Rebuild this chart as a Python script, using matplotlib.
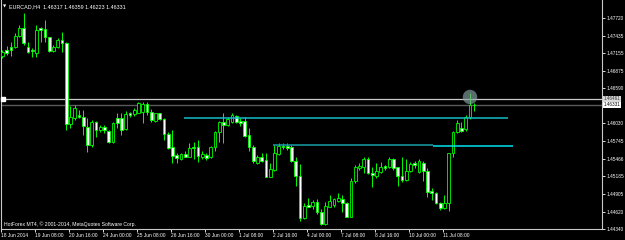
import matplotlib
matplotlib.use('Agg')
import matplotlib.pyplot as plt
from matplotlib.patches import Ellipse

# EURCAD H4 candles, 18 Jun 2014 .. 14 Jul 2014
opens = [1.47108, 1.47204, 1.47247, 1.47247, 1.47428, 1.47551, 1.47252, 1.47204, 1.47161, 1.47556,
         1.47540, 1.47407, 1.47193, 1.47247, 1.47364, 1.47321, 1.46020, 1.46116, 1.46164, 1.46132,
         1.45972, 1.45684, 1.46052, 1.45924, 1.45972, 1.45908, 1.45732, 1.46116, 1.46116, 1.45940,
         1.46196, 1.46175, 1.46196, 1.46217, 1.46340, 1.46217, 1.46068, 1.46196, 1.46100, 1.45860,
         1.45652, 1.45524, 1.45460, 1.45540, 1.45497, 1.45652, 1.45652, 1.45497, 1.45524, 1.45492,
         1.45652, 1.45897, 1.46057, 1.46004, 1.46057, 1.46148, 1.46073, 1.46068, 1.45844, 1.45647,
         1.45401, 1.45497, 1.45444, 1.45177, 1.45284, 1.45540, 1.45668, 1.45668, 1.45647, 1.45433,
         1.45188, 1.44511, 1.44724, 1.44708, 1.44777, 1.44617, 1.44415, 1.44697, 1.44719, 1.44793,
         1.44815, 1.44761, 1.44537, 1.45113, 1.45311, 1.45327, 1.45465, 1.45241, 1.45188, 1.45257,
         1.45348, 1.45327, 1.45460, 1.45327, 1.45188, 1.45124, 1.45273, 1.45391, 1.45257, 1.45391,
         1.45273, 1.44948, 1.44921, 1.44761, 1.44671, 1.44761, 1.45551, 1.45897, 1.45951, 1.45935,
         1.46127, 1.46317]
highs = [1.47204, 1.47268, 1.47337, 1.47476, 1.47604, 1.47791, 1.47337, 1.47236, 1.47604, 1.47577,
         1.47684, 1.47417, 1.47284, 1.47391, 1.47497, 1.47332, 1.46308, 1.46324, 1.46244, 1.46244,
         1.46116, 1.46084, 1.46068, 1.46004, 1.46004, 1.45924, 1.46057, 1.46196, 1.46196, 1.46233,
         1.46217, 1.46281, 1.46377, 1.46377, 1.46377, 1.46255, 1.46201, 1.46201, 1.46111, 1.45897,
         1.45924, 1.45551, 1.45561, 1.45593, 1.45721, 1.45737, 1.45764, 1.45593, 1.45551, 1.45668,
         1.45913, 1.46068, 1.46201, 1.46137, 1.46191, 1.46164, 1.46111, 1.46127, 1.45951, 1.45684,
         1.45524, 1.45551, 1.45551, 1.45401, 1.45684, 1.45711, 1.45711, 1.45711, 1.45684, 1.45487,
         1.45380, 1.44761, 1.44831, 1.44804, 1.44815, 1.44655, 1.44777, 1.44884, 1.44831, 1.44911,
         1.44884, 1.44777, 1.45151, 1.45364, 1.45391, 1.45487, 1.45487, 1.45337, 1.45391, 1.45417,
         1.45364, 1.45487, 1.45476, 1.45337, 1.45497, 1.45455, 1.45417, 1.45433, 1.45455, 1.45433,
         1.45311, 1.44991, 1.44937, 1.44777, 1.44884, 1.45561, 1.45913, 1.46084, 1.46057, 1.46164,
         1.46521, 1.46359]
lows = [1.47076, 1.47124, 1.47108, 1.47236, 1.47417, 1.47284, 1.47151, 1.47097, 1.47097, 1.47337,
        1.47337, 1.47177, 1.47177, 1.47231, 1.47177, 1.45924, 1.45956, 1.46084, 1.46116, 1.45844,
        1.45572, 1.45652, 1.45812, 1.45892, 1.45876, 1.45716, 1.45711, 1.45956, 1.45844, 1.45924,
        1.46127, 1.46148, 1.46191, 1.46036, 1.46164, 1.46057, 1.46057, 1.46084, 1.45764, 1.45615,
        1.45396, 1.45391, 1.45444, 1.45487, 1.45487, 1.45460, 1.45417, 1.45460, 1.45444, 1.45471,
        1.45593, 1.45737, 1.45711, 1.45988, 1.46031, 1.46031, 1.45988, 1.45807, 1.45593, 1.45391,
        1.45380, 1.45417, 1.45167, 1.45167, 1.45268, 1.45524, 1.45615, 1.45604, 1.45417, 1.45028,
        1.44468, 1.44495, 1.44687, 1.44655, 1.44580, 1.44404, 1.44404, 1.44687, 1.44697, 1.44777,
        1.44617, 1.44527, 1.44527, 1.45071, 1.45284, 1.45241, 1.45220, 1.45017, 1.45151, 1.45231,
        1.45284, 1.45311, 1.45284, 1.45028, 1.45097, 1.45113, 1.45257, 1.45311, 1.45231, 1.45113,
        1.44847, 1.44804, 1.44740, 1.44644, 1.44655, 1.44633, 1.45487, 1.45881, 1.45897, 1.45913,
        1.46095, 1.46223]
closes = [1.47172, 1.47161, 1.47204, 1.47428, 1.47556, 1.47311, 1.47177, 1.47183, 1.47524, 1.47524,
          1.47407, 1.47188, 1.47257, 1.47364, 1.47311, 1.46020, 1.46132, 1.46276, 1.46132, 1.45988,
          1.45684, 1.46052, 1.45924, 1.45972, 1.45924, 1.45732, 1.46036, 1.46036, 1.45924, 1.46180,
          1.46164, 1.46244, 1.46356, 1.46340, 1.46217, 1.46084, 1.46196, 1.46100, 1.45860, 1.45636,
          1.45508, 1.45481, 1.45540, 1.45497, 1.45641, 1.45644, 1.45513, 1.45540, 1.45481, 1.45652,
          1.45897, 1.46057, 1.46004, 1.46100, 1.46164, 1.46047, 1.46041, 1.45828, 1.45647, 1.45433,
          1.45492, 1.45433, 1.45177, 1.45300, 1.45556, 1.45668, 1.45647, 1.45641, 1.45433, 1.45188,
          1.44511, 1.44708, 1.44697, 1.44777, 1.44617, 1.44415, 1.44708, 1.44793, 1.44815, 1.44841,
          1.44761, 1.44537, 1.45113, 1.45332, 1.45348, 1.45465, 1.45231, 1.45199, 1.45268, 1.45337,
          1.45321, 1.45460, 1.45321, 1.45188, 1.45124, 1.45268, 1.45380, 1.45364, 1.45433, 1.45273,
          1.44937, 1.44911, 1.44761, 1.44671, 1.44761, 1.45556, 1.45897, 1.46031, 1.45913, 1.46127,
          1.46324, 1.46331]

x_labels = ['18 Jun 2014', '19 Jun 08:00', '20 Jun 16:00', '24 Jun 00:00', '25 Jun 08:00',
            '26 Jun 16:00', '30 Jun 00:00', '1 Jul 08:00', '2 Jul 16:00', '4 Jul 00:00',
            '7 Jul 08:00', '8 Jul 16:00', '10 Jul 00:00', '11 Jul 08:00']
bars_per_label = 8

y_ticks = [1.47720, 1.47435, 1.47155, 1.46875, 1.46590, 1.46030, 1.45745,
           1.45465, 1.45185, 1.44905, 1.44620, 1.44340]
y_labels = ['1.47720', '1.47435', '1.47155', '1.46875', '1.46590', '1.46030', '1.45745',
            '1.45466', '1.45185', '1.44905', '1.44620', '1.44340']

# horizontal line objects: (price, first bar, last bar)
upper_level = (1.46116, 42.7, 118.9)
lower_level_a = (1.45679, 63.6, 101.3)
lower_level_b = (1.45663, 101.3, 120.1)

# price lines on the right scale
line_prices = [1.46415, 1.46331]
line_texts = ['1.46461', '1.46331']

header = 'EURCAD,H4  1.46317 1.46359 1.46223 1.46331'
footer = 'HotForex MT4, \u00a9 2001-2014, MetaQuotes Software Corp.'

plt.rcParams['font.family'] = ['Liberation Sans', 'DejaVu Sans']

fig = plt.figure(figsize=(6.25, 2.4), dpi=100, facecolor='black')
ax = fig.add_axes([1 / 625, 11 / 240, 601 / 625, 229 / 240])
ax.set_facecolor('black')

green = '#00ff00'
n = len(opens)
xs = list(range(n))

# wicks
ax.vlines(xs, lows, highs, color=green, linewidth=0.7, zorder=2)

# bodies: bull = black inside, bear = white inside
for i in range(n):
    o, c = opens[i], closes[i]
    face = 'black' if c >= o else 'white'
    h = abs(c - o)
    if h < 0.00003:
        h = 0.00003
    ax.bar(i, h, bottom=min(o, c), width=0.68, color=face,
           edgecolor=green, linewidth=0.6, zorder=3)

# price lines across the chart
ax.axhline(line_prices[0], color='#c8c8c8', linewidth=0.9, zorder=1)
ax.axhline(line_prices[1], color='#5a5a5a', linewidth=1.0, zorder=1)

# cyan levels
ax.hlines(upper_level[0], upper_level[1], upper_level[2], color='#12bcc6', linewidth=1.1, zorder=4)
ax.hlines(lower_level_a[0], lower_level_a[1], lower_level_a[2], color='#1a9ea8', linewidth=1.1, zorder=4)
ax.hlines(lower_level_b[0], lower_level_b[1], lower_level_b[2], color='#00e4f2', linewidth=1.1, zorder=4)

# marker circle near the last high
ax.add_patch(Ellipse((110, 1.46452), 3.4, 0.00232, facecolor='#8aa6a6', alpha=0.65,
                     edgecolor='none', zorder=5))

ax.set_xlim(-0.35, 141.06)
ax.set_ylim(1.44340, 1.48004)

ax.set_xticks([k * bars_per_label - 0.35 for k in range(len(x_labels))])
ax.set_xticklabels(x_labels, ha='left')
ax.set_yticks(y_ticks)
ax.set_yticklabels(y_labels)
ax.yaxis.tick_right()
ax.tick_params(axis='x', colors='white', labelsize=3.5, length=2, width=0.6, pad=1)
ax.tick_params(axis='y', colors='white', labelsize=3.4, length=2, width=0.6, pad=1)

for s in ['left', 'right', 'bottom']:
    ax.spines[s].set_color('#c8c8c8')
    ax.spines[s].set_linewidth(0.8)
ax.spines['top'].set_visible(False)

# labels of the price lines on the scale
ax.text(1.003, line_prices[0] + 0.00005, line_texts[0], transform=ax.get_yaxis_transform(),
        fontsize=3.3, color='#303030', va='center', ha='left',
        bbox=dict(boxstyle='square,pad=0.15', facecolor='#d8d8d8', edgecolor='none'), clip_on=False)
ax.text(1.003, line_prices[1] - 0.00005, line_texts[1], transform=ax.get_yaxis_transform(),
        fontsize=3.3, color='black', va='center', ha='left',
        bbox=dict(boxstyle='square,pad=0.15', facecolor='white', edgecolor='none'), clip_on=False)
ax.plot([0.004], [line_prices[0]], marker='s', markersize=2.2, color='white',
        transform=ax.get_yaxis_transform(), clip_on=False, zorder=6)

ax.text(0.004, 0.972, '\u25bc', transform=ax.transAxes, fontsize=3, color='white',
        family=['DejaVu Sans'], va='center', ha='left')
ax.text(0.014, 0.972, header, transform=ax.transAxes, fontsize=3.9, color='white',
        va='center', ha='left')
ax.text(0.005, 0.022, footer, transform=ax.transAxes, fontsize=3.7, color='white',
        va='center', ha='left')

fig.savefig('out.png', dpi=100, facecolor='black')
